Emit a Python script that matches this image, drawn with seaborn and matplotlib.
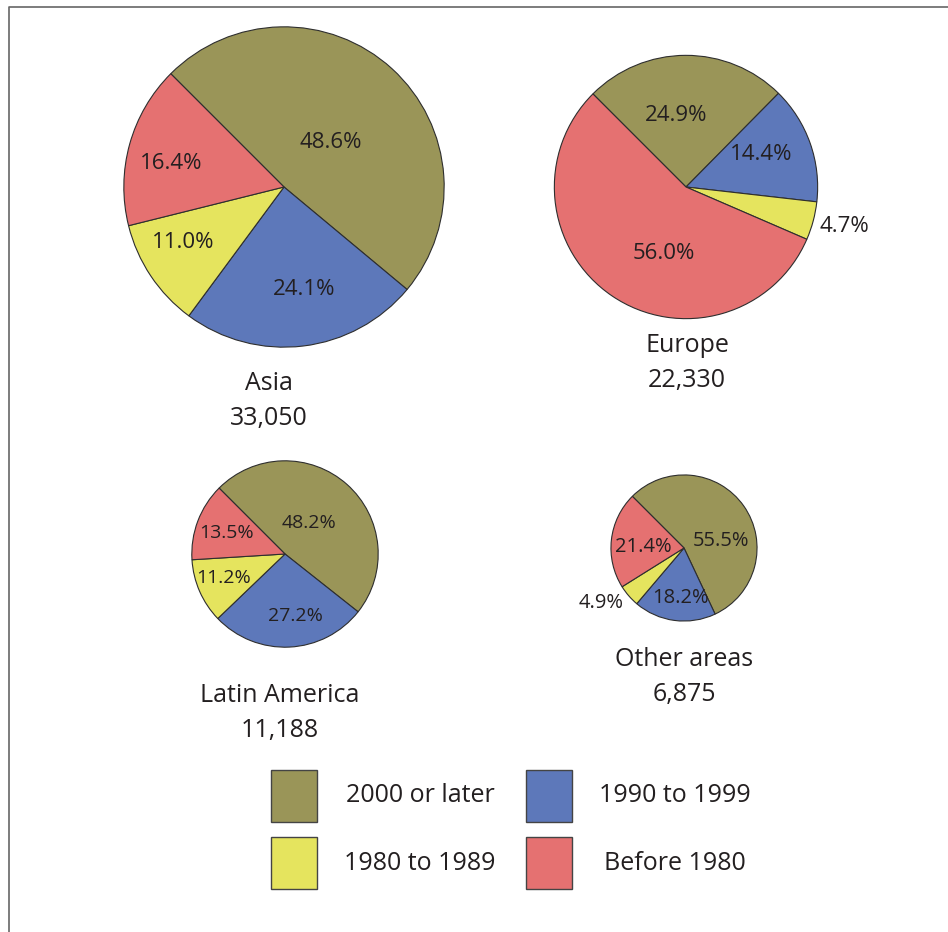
import numpy as np
import matplotlib
matplotlib.use("Agg")
import matplotlib.pyplot as plt
from matplotlib.patches import Rectangle
import seaborn as sns

# data
categories = ["2000 or later", "1990 to 1999", "1980 to 1989", "Before 1980"]
regions = ["Asia", "Europe", "Latin America", "Other areas"]
totals = [33050, 22330, 11188, 6875]
asia_pct = [48.6, 24.1, 11.0, 16.4]
europe_pct = [24.9, 14.4, 4.7, 56.0]
latin_pct = [48.2, 27.2, 11.2, 13.5]
other_pct = [55.5, 18.2, 4.9, 21.4]
shares = [asia_pct, europe_pct, latin_pct, other_pct]

colors = ["#9a9558", "#5d78ba", "#e5e45e", "#e57171"]
TXT = "#231f20"

# layout, in pixels from top-left
W, H = 948, 932
centers = [(284, 187), (686, 187), (285, 554), (684, 548)]
r_scale = 0.881  # radius ~ sqrt(total)
title_pos = [(269, 384), (687, 346), (280, 695), (684, 659)]
pct_dist = [[0.40, 0.65, 0.72, 0.72],
            [0.55, 0.62, 1.24, 0.53],
            [0.42, 0.68, 0.71, 0.67],
            [0.52, 0.68, 1.36, 0.56]]
pct_rot = [[-4, 4, -5, 4],
           [8, 4, 1, 16],
           [3, 7, -2, 1],
           [-24, 4, -7, 5]]
pct_size = [16, 16, 14, 14.5]

sns.set_theme(style="white")
plt.rcParams["font.family"] = ["Open Sans", "DejaVu Sans"]

fig = plt.figure(figsize=(W / 100, H / 100), dpi=100)
ax = fig.add_axes([0, 0, 1, 1])

for i, region in enumerate(regions):
    cx, cy = centers[i]
    cy = H - cy
    r = r_scale * np.sqrt(totals[i])
    wedges, _ = ax.pie(shares[i], colors=colors, startangle=135,
                       counterclock=False, radius=r, center=(cx, cy),
                       wedgeprops=dict(edgecolor="#2e2e2e", linewidth=0.8))
    for j, w in enumerate(wedges):
        ang = np.deg2rad((w.theta1 + w.theta2) / 2 + pct_rot[i][j])
        d = pct_dist[i][j] * r
        ax.text(cx + d * np.cos(ang), cy + d * np.sin(ang),
                f"{shares[i][j]:.1f}%", ha="center", va="center",
                fontsize=pct_size[i], color=TXT)
    tx, ty = title_pos[i]
    ax.text(tx, H - ty, region, ha="center", va="center", fontsize=18, color=TXT)
    ax.text(tx, H - ty - 35, f"{totals[i]:,}", ha="center", va="center",
            fontsize=18, color=TXT)

# legend
box_x = [271, 526]
box_y = [770, 837]
text_x = [420, 675]
for k, cat in enumerate(categories):
    col, row = k % 2, k // 2
    ax.add_patch(Rectangle((box_x[col], H - box_y[row] - 52), 46, 52,
                           facecolor=colors[k], edgecolor="#444444", linewidth=1))
    ax.text(text_x[col], H - box_y[row] - 26, cat, ha="center", va="center",
            fontsize=18, color=TXT)

# frame (left and top edges)
ax.plot([9, 9, W + 5], [-5, H - 7, H - 7], color="#666666", linewidth=1.2)

ax.set_xlim(0, W)
ax.set_ylim(0, H)
ax.set_aspect("auto")
ax.axis("off")

fig.savefig("out.png", dpi=100)
